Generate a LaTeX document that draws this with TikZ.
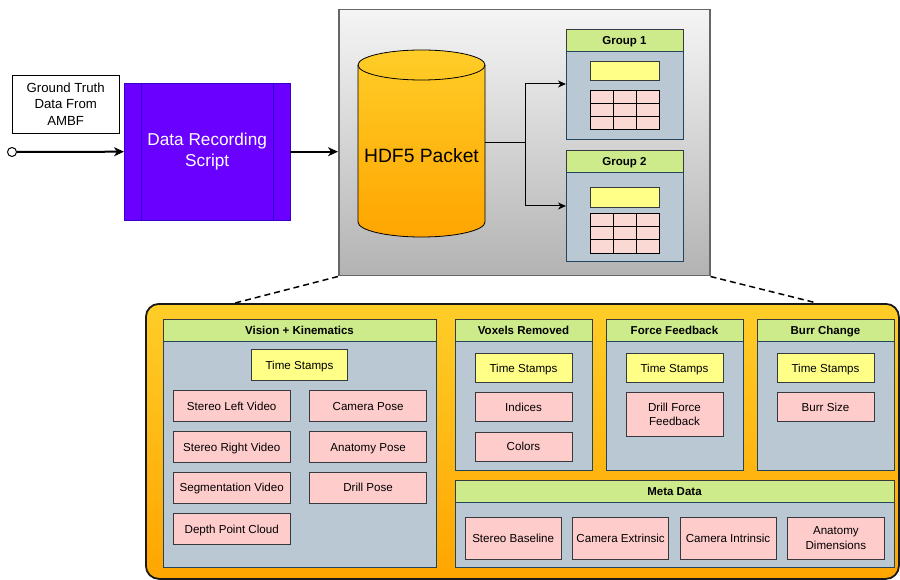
\documentclass[tikz,border=0pt]{standalone}
\usepackage{fontspec}
\setmainfont{Liberation Sans}
\usetikzlibrary{arrows.meta}
\usetikzlibrary{positioning}

\definecolor{scriptfill}{HTML}{6A00FF}
\definecolor{scriptline}{HTML}{3700CC}
\definecolor{headgreen}{HTML}{CDEB8B}
\definecolor{edgegray}{HTML}{36393D}
\definecolor{bodyblue}{HTML}{BAC8D3}
\definecolor{bodyline}{HTML}{23445D}
\definecolor{stampyellow}{HTML}{FFFF88}
\definecolor{itempink}{HTML}{FFCCCC}
\definecolor{tablepink}{HTML}{FAD9D5}
\definecolor{orangetop}{HTML}{FFCD28}
\definecolor{orangebot}{HTML}{FFA500}

\tikzset{
    grouphead/.style={
      rectangle,
           draw=edgegray, fill=headgreen,
           inner sep=0pt, outer sep=0pt,
           minimum height=22pt,
           text height=9.8pt, text depth=1pt,
           font=\fontsize{11.5}{13}\selectfont\bfseries,
           },
}
\tikzset{
    groupbody/.style={
      rectangle,
           draw=bodyline, fill=bodyblue,
           inner sep=0pt, outer sep=0pt,
           },
}
\tikzset{
    stamp/.style={
      rectangle,
           draw=edgegray, fill=stampyellow,
           inner sep=0pt,
           minimum width=97pt, minimum height=29pt,
           text height=9.8pt, text depth=1pt,
           font=\fontsize{11.6}{14}\selectfont,
           },
}
\tikzset{
    item/.style={
      rectangle,
           draw=edgegray, fill=itempink,
           inner sep=0pt,
           minimum width=117pt, minimum height=31pt,
           text height=9.8pt, text depth=1pt,
           font=\fontsize{11.6}{14.5}\selectfont,
           },
}
\tikzset{
    twoline/.style={
      align=center,
           text height={}, text depth={},
           },
}
\tikzset{
    mainarrow/.style={
      line width=2pt,
           -{Stealth[length=10pt,width=9pt,inset=3pt]},
           },
}
\tikzset{
    link/.style={
      line width=1pt,
           -{Stealth[length=8pt,width=7pt,inset=2.5pt]},
           },
}

\begin{document}
\begin{tikzpicture}[x=1pt,y=-1pt]

\useasboundingbox (0,0) rectangle (900,580);

\node[draw=black,fill=white,inner sep=0pt,minimum width=107pt,minimum height=58pt,anchor=north west,align=center,font=\fontsize{13.2}{16.8}\selectfont](gt) at (12,75){Ground Truth\\Data From\\AMBF};

\node[draw=scriptline,fill=scriptfill,text=white,inner sep=0pt,minimum width=166pt,minimum height=137pt,anchor=north west,align=center,font=\fontsize{17.2}{21}\selectfont](drs) at (124,83){Data Recording\\Script};
\draw[scriptline] ([xshift=17pt]drs.north west) -- ([xshift=17pt]drs.south west);
\draw[scriptline] ([xshift=-17pt]drs.north east) -- ([xshift=-17pt]drs.south east);

\node[circle,draw=black,fill=white,line width=1pt,inner sep=0pt,minimum size=9pt](src) at (12,152){};

\node[draw=black!60,line width=1.5pt,top color=black!4,bottom color=black!30,inner sep=0pt,minimum width=371pt,minimum height=266pt,anchor=north west](pkt) at (338,9){};

\path (src) edge[mainarrow](drs.west);
\path (drs.east) edge[mainarrow](drs.east -| pkt.west);

% cylinder
\draw[top color=orangetop,bottom color=orangebot,draw=black,line width=0.8pt] (358,65) -- (358,222) arc (180:360:63.5pt and 15pt) -- (485,65) arc (0:180:63.5pt and 15pt) -- cycle;
\draw[line width=0.8pt] (358,65) arc (180:360:63.5pt and 15pt);
\node[font=\fontsize{19.3}{23}\selectfont](hdf) at (421.5,156){HDF5 Packet};
\coordinate (hdfout) at (485,143);

% groups
\node[grouphead,minimum width=117pt,anchor=north west](g1head) at (566,29){Group 1};
\node[groupbody,minimum width=117pt,minimum height=88pt,below=0pt of g1head](g1body){};
\node[stamp,minimum width=69pt,minimum height=19pt,below=10pt of g1head](g1stamp){};
\node[draw=black,fill=tablepink,inner sep=0pt,minimum width=69pt,minimum height=39pt,below=10pt of g1stamp](g1tbl){};

\node[grouphead,minimum width=117pt,anchor=north west](g2head) at (566,150){Group 2};
\node[groupbody,minimum width=117pt,minimum height=89pt,below=0pt of g2head](g2body){};
\node[stamp,minimum width=69pt,minimum height=20pt,below=15pt of g2head](g2stamp){};
\node[draw=black,fill=tablepink,inner sep=0pt,minimum width=69pt,minimum height=40pt,below=6pt of g2stamp](g2tbl){};

\foreach \t in {g1tbl,g2tbl}{
  \foreach \c in {23,46}
    \draw ([xshift=\c pt]\t.north west) -- ([xshift=\c pt]\t.south west);
  \foreach \r in {13,26}
    \draw ([yshift=-\r pt]\t.north west) -- ([yshift=-\r pt]\t.north east);
}

\draw[link] (hdfout) -- ++(40,0) |- ([yshift=11pt]g1body.west);
\draw[link] (hdfout) -- ++(40,0) |- ([yshift=10.5pt]g2body.west);

% contents of the packet
\node[draw=black!90,line width=1.8pt,rounded corners=13pt,top color=orangetop,bottom color=orangebot,inner sep=0pt,minimum width=753pt,minimum height=275pt,anchor=north west](bt) at (145,303){};

\draw[line width=1.5pt,dash pattern=on 6pt off 4pt] (pkt.south west) -- ([xshift=90pt]bt.north west);
\draw[line width=1.5pt,dash pattern=on 6pt off 4pt] (pkt.south east) -- ([xshift=-83pt]bt.north east);

\node[grouphead,minimum width=273pt,anchor=north west](vkhead) at (163,319){Vision + Kinematics};
\node[groupbody,minimum width=273pt,minimum height=226pt,below=0pt of vkhead](vkbody){};
\node[stamp,minimum width=96pt,minimum height=31pt,below=8pt of vkhead](vkts){Time Stamps};
\node[item,anchor=north west](slv) at (173,390){Stereo Left Video};
\node[item,below=10pt of slv](srv){Stereo Right Video};
\node[item,below=9pt of srv](seg){Segmentation Video};
\node[item,below=10pt of seg](dpc){Depth Point Cloud};
\node[item,right=19pt of slv](cam){Camera Pose};
\node[item,below=10pt of cam](anp){Anatomy Pose};
\node[item,below=9pt of anp](drp){Drill Pose};

\node[grouphead,minimum width=137pt,anchor=north west](vrhead) at (455,319){Voxels Removed};
\node[groupbody,minimum width=137pt,minimum height=129pt,below=0pt of vrhead](vrbody){};
\node[stamp,below=12pt of vrhead](vrts){Time Stamps};
\node[item,minimum width=97pt,minimum height=29pt,below=10pt of vrts](ind){Indices};
\node[item,minimum width=97pt,minimum height=29pt,below=10pt of ind](col){Colors};

\node[grouphead,minimum width=137pt,anchor=north west](ffhead) at (606,319){Force Feedback};
\node[groupbody,minimum width=137pt,minimum height=129pt,below=0pt of ffhead](ffbody){};
\node[stamp,below=12pt of ffhead](ffts){Time Stamps};
\node[item,twoline,minimum width=97pt,minimum height=44pt,below=10pt of ffts](dff){Drill Force\\Feedback};

\node[grouphead,minimum width=137pt,anchor=north west](bchead) at (757,319){Burr Change};
\node[groupbody,minimum width=137pt,minimum height=129pt,below=0pt of bchead](bcbody){};
\node[stamp,below=12pt of bchead](bcts){Time Stamps};
\node[item,minimum width=97pt,minimum height=29pt,below=10pt of bcts](bsz){Burr Size};

\node[grouphead,minimum width=439pt,anchor=north west](mdhead) at (455,480){Meta Data};
\node[groupbody,minimum width=439pt,minimum height=65pt,below=0pt of mdhead](mdbody){};
\node[item,minimum width=96pt,minimum height=42pt,anchor=north west](sbl) at (465,517){Stereo Baseline};
\node[item,minimum width=96pt,minimum height=42pt,right=11pt of sbl](cex){Camera Extrinsic};
\node[item,minimum width=96pt,minimum height=42pt,right=11pt of cex](cin){Camera Intrinsic};
\node[item,twoline,minimum width=97pt,minimum height=42pt,right=11pt of cin](adm){Anatomy\\Dimensions};

\end{tikzpicture}
\end{document}
